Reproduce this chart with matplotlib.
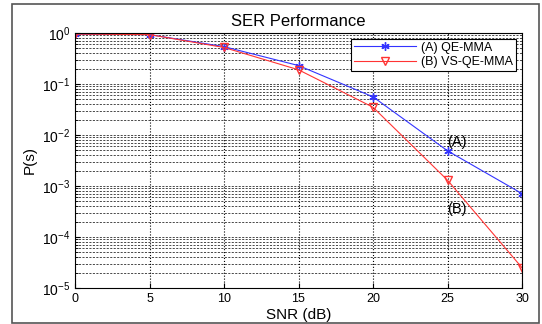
import math
import matplotlib.pyplot as plt
from matplotlib.patches import Rectangle
from matplotlib.ticker import LogLocator, NullFormatter, FuncFormatter

plt.rcParams['font.family'] = ['Liberation Sans', 'DejaVu Sans']
plt.rcParams['mathtext.fontset'] = 'custom'
plt.rcParams['mathtext.rm'] = 'Liberation Sans'
plt.rcParams['mathtext.it'] = 'Liberation Sans'

snr = [0, 5, 10, 15, 20, 25, 30]
ser_a = [0.95, 0.93, 0.54, 0.23, 0.056, 0.0049, 0.00071]
ser_b = [0.95, 0.93, 0.52, 0.19, 0.035, 0.0013, 0.000025]
labels = ['(A) QE-MMA', '(B) VS-QE-MMA']

fig = plt.figure(figsize=(5.42, 3.24), dpi=100)
ax = fig.add_axes([75/542, 1 - 288/324, (522 - 75)/542, (288 - 33)/324])

# frame around the whole figure
fig.patches.append(Rectangle((12/542, 1/324), (539 - 12)/542, (320 - 1)/324,
                             transform=fig.transFigure, fill=False,
                             edgecolor='#555555', linewidth=1.2))

ax.semilogy(snr, ser_a, color='#3333ff', marker=(6, 2, 0), markersize=6,
            markeredgewidth=1.0, linewidth=0.8, label=labels[0])
ax.semilogy(snr, ser_b, color='#ff3333', marker='v', markerfacecolor='none', markersize=6,
            linewidth=0.8, label=labels[1])

ax.set_xlim(0, 30)
ax.set_ylim(1e-5, 1)
ax.set_xticks(snr)
ax.yaxis.set_major_locator(LogLocator(base=10, numticks=10))
ax.yaxis.set_minor_locator(LogLocator(base=10, subs=range(2, 10), numticks=10))
ax.yaxis.set_minor_formatter(NullFormatter())
ax.yaxis.set_major_formatter(FuncFormatter(lambda v, p: r'$10^{%d}$' % round(math.log10(v))))
ax.tick_params(labelsize=9, direction='in', which='both')
ax.tick_params(axis='y', labelsize=10)

ax.grid(True, which='major', axis='x', color='black', linestyle=':', linewidth=0.8)
ax.grid(True, which='major', axis='y', color='black', linestyle='--', linewidth=0.5, dashes=(3, 2))
ax.grid(True, which='minor', axis='y', color='black', linestyle='--', linewidth=0.5, dashes=(3, 2))

ax.text(25, 7.3e-3, '(A)', fontsize=10.5, ha='left', va='center')
ax.text(25, 3.5e-4, '(B)', fontsize=10.5, ha='left', va='center')

ax.set_title('SER Performance', fontsize=12, pad=5)
ax.set_xlabel('SNR (dB)', fontsize=11, labelpad=2)
ax.set_ylabel('P(s)', fontsize=11)

leg = ax.legend(loc='upper right', fontsize=9, fancybox=False, framealpha=1,
                edgecolor='black', borderaxespad=0.45, handlelength=5,
                borderpad=0.25, labelspacing=0.2, handletextpad=0.4)
leg.get_frame().set_linewidth(0.8)

fig.savefig('out.png', dpi=100)
